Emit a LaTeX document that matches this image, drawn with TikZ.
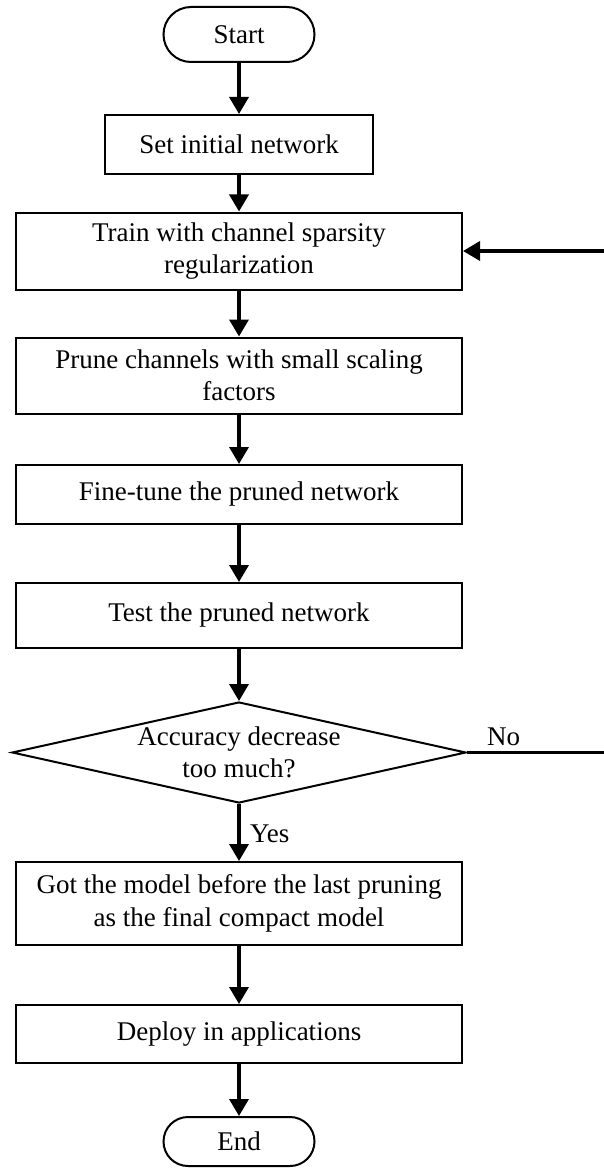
\documentclass[tikz,border=0pt]{standalone}
\usepackage{fontspec}
\setmainfont{Liberation Serif}
\usetikzlibrary{arrows.meta,shapes.geometric}
\begin{document}
\begin{tikzpicture}[x=1pt,y=-1pt,
  every node/.style={font=\fontsize{27}{32.5}\selectfont},
  procbox/.style={draw, line width=2pt, rectangle, align=center, inner sep=0pt, minimum width=446pt},
  termbox/.style={draw, line width=2pt, rectangle, inner sep=0pt, minimum width=151pt},
  decbox/.style={draw, line width=2pt, diamond, aspect=4.495, align=center, inner xsep=-30pt, inner ysep=-15pt,
                 minimum width=454pt, minimum height=101pt},
  flow/.style={line width=3.5pt, -{Triangle[length=17pt,width=19pt]}},
  plainline/.style={line width=3.5pt},
  tag/.style={inner sep=0pt}
]
\useasboundingbox (0,0) rectangle (604,1169);

% process chain
\node[termbox, rounded corners=27.5pt, minimum height=55pt] (start) at (239,34.5) {Start};
\node[procbox, minimum width=268pt, minimum height=59pt] (init) at (239,144.5) {Set initial network};
\node[procbox, minimum height=77pt] (train) at (239,251) {Train with channel sparsity\\regularization};
\node[procbox, minimum height=76pt] (prune) at (239,375.5) {Prune channels with small scaling\\factors};
\node[procbox, minimum height=59pt] (tune) at (239,494.5) {Fine-tune the pruned network};
\node[procbox, minimum height=65pt] (test) at (239,615.5) {Test the pruned network};
\node[decbox] (dec) at (239,752.5) {Accuracy decrease\\too much?};
\node[procbox, minimum height=83pt] (got) at (239,903.5) {Got the model before the last pruning\\as the final compact model};
\node[procbox, minimum height=58pt] (deploy) at (239,1034) {Deploy in applications};
\node[termbox, rounded corners=24.5pt, minimum height=49pt] (end) at (239,1141.5) {End};

% loop-back ends at the right border
\coordinate (backhi) at (604,251);
\coordinate (backlo) at (604,752.5);

\draw[flow] (start) -- (init);
\draw[flow] (init) -- (train);
\draw[flow] (train) -- (prune);
\draw[flow] (prune) -- (tune);
\draw[flow] (tune) -- (test);
\draw[flow] (test) -- (dec);
\draw[flow] (dec) -- (got);
\draw[flow] (got) -- (deploy);
\draw[flow] (deploy) -- (end);

\draw[plainline] (dec.east) -- (backlo);
\draw[flow] (backhi) -- (train.east);

\node[tag, anchor=base west] (yes) at (250,842) {Yes};
\node[tag, anchor=base west] (no) at (487,745) {No};
\end{tikzpicture}
\end{document}
